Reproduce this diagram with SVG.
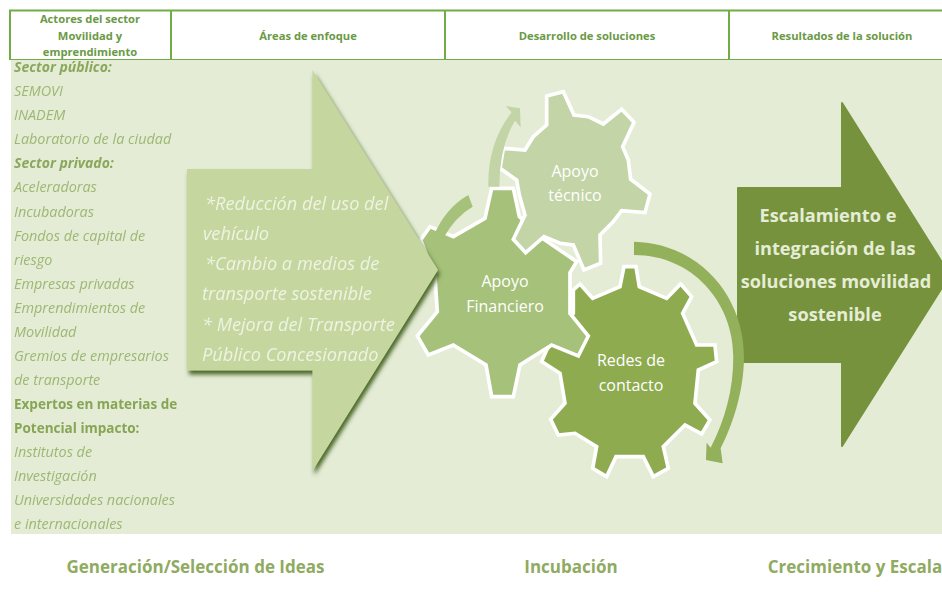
<svg xmlns="http://www.w3.org/2000/svg" width="942" height="592" viewBox="0 0 942 592">
<style>
.rule{stroke:#70ad47;fill:none}
.hd{font:bold 11.2px "Open Sans",sans-serif;fill:#6a9a45;text-anchor:middle}
.it{font:italic 14.4px "Open Sans",sans-serif;fill:#9db873}
.bd{font:italic bold 14px "Open Sans",sans-serif;fill:#8aa85c}
.bn{font:bold 13.5px "Open Sans",sans-serif;fill:#86a554}
.ar{font:italic 18.2px "Open Sans",sans-serif;fill:#eef3e3}
.gt{font:16px "Open Sans",sans-serif;fill:#fff;text-anchor:middle}
.rt{font:bold 18.2px "Open Sans",sans-serif;fill:#e6edd6;text-anchor:middle}
.ft{font:bold 17px "Open Sans",sans-serif;fill:#8fab62;text-anchor:middle}
.gear{stroke:#fff;stroke-width:11;stroke-linejoin:miter}
</style>
<defs>
<filter id="sh" x="-10%" y="-10%" width="125%" height="125%"><feDropShadow dx="2" dy="4" stdDeviation="2" flood-color="#4a6626"/></filter>
<filter id="soft" x="-5%" y="-20%" width="110%" height="140%"><feGaussianBlur stdDeviation="0.45"/></filter>
</defs>
<rect x="11" y="60" width="931" height="474" fill="#e4ecd6"/>
<g id="header">
<path class="rule" stroke-width="2" d="M9 10.500H942M10 10V60M171 10V60M445 10V60M729 10V60"/>
<path class="rule" d="M9 59.500H942"/>
<text class="hd" x="90" y="23">Actores del sector</text>
<text class="hd" x="90" y="40">Movilidad y</text>
<text class="hd" x="90" y="56">emprendimiento</text>
<text class="hd" x="308" y="40">Áreas de enfoque</text>
<text class="hd" x="587" y="40">Desarrollo de soluciones</text>
<text class="hd" x="842" y="40">Resultados de la solución</text>
</g>
<g id="actores" filter="url(#soft)">
<text class="bd" x="14" y="72">Sector público:</text>
<text class="it" x="14" y="96">SEMOVI</text>
<text class="it" x="14" y="120">INADEM</text>
<text class="it" x="14" y="144">Laboratorio de la ciudad</text>
<text class="bd" x="14" y="168">Sector privado:</text>
<text class="it" x="14" y="192">Aceleradoras</text>
<text class="it" x="14" y="217">Incubadoras</text>
<text class="it" x="14" y="241">Fondos de capital de</text>
<text class="it" x="14" y="265">riesgo</text>
<text class="it" x="14" y="289">Empresas privadas</text>
<text class="it" x="14" y="313">Emprendimientos de</text>
<text class="it" x="14" y="337">Movilidad</text>
<text class="it" x="14" y="361">Gremios de empresarios</text>
<text class="it" x="14" y="385">de transporte</text>
<text class="bn" x="14" y="409">Expertos en materias de</text>
<text class="bn" x="14" y="433">Potencial impacto:</text>
<text class="it" x="14" y="457">Institutos de</text>
<text class="it" x="14" y="481">Investigación</text>
<text class="it" x="14" y="505">Universidades nacionales</text>
<text class="it" x="14" y="529">e internacionales</text>
</g>
<g id="gear-redes">
<polygon class="gear" fill="#8eab50" transform="translate(400 80) scale(.3333)" points="672,560 708,560 718,620 800,655 842,612 875,650 848,700 890,795 945,795 950,845 895,870 885,970 930,1020 905,1062 855,1035 790,1100 805,1165 760,1190 730,1130 648,1130 620,1190 578,1165 590,1100 525,1060 475,1065 452,1018 495,970 480,880 425,845 440,810 520,700 520,630 540,612 578,655 660,620"/>
<text class="gt" x="631" y="366">Redes de</text>
<text class="gt" x="631" y="391">contacto</text>
</g>
<g id="gear-financiero">
<polygon class="gear" fill="#a6c17a" transform="translate(400 80) scale(.3333)" points="275,325 340,325 358,410 420,470 530,545 510,578 510,700 565,768 535,828 455,795 360,855 340,950 275,950 258,855 160,795 85,825 52,768 112,695 105,590 62,480 90,440 160,470 255,415"/>
<text class="gt" x="505" y="287">Apoyo</text>
<text class="gt" x="505" y="312">Financiero</text>
</g>
<g id="gear-tecnico">
<polygon class="gear" fill="#c3d4a7" transform="translate(400 80) scale(.3333)" points="440,48 490,35 522,105 565,110 610,132 665,88 702,127 668,200 685,240 692,298 750,342 735,398 665,392 640,425 600,465 602,550 552,570 520,495 480,490 432,470 377,518 340,478 375,405 358,345 350,300 300,265 310,205 375,210 400,170 440,135"/>
<text class="gt" x="575" y="177">Apoyo</text>
<text class="gt" x="575" y="201">técnico</text>
</g>
<g id="arrow-resultados">
<polygon fill="#76923c" stroke="#76923c" stroke-width="2" stroke-linejoin="round" points="738,188 842,188 842,103 950,275 842,446 842,362 738,362"/>
<text class="rt" x="828" y="222">Escalamiento e</text>
<text class="rt" x="835" y="255">integración de las</text>
<text class="rt" x="836" y="288">soluciones movilidad</text>
<text class="rt" x="835" y="321">sostenible</text>
</g>
<g id="connectors">
<path fill="#c3d4a7" transform="translate(400 80) scale(.3333)" d="M265 320Q262 190 335 97L317 78L360 85L362 142L345 122Q298 200 298 320Z"/>
<path fill="#a6c17a" transform="translate(400 80) scale(.3333)" d="M100 470Q135 385 205 345L218 380Q165 410 130 475Z"/>
<path fill="#93b05a" transform="translate(400 80) scale(.3333)" d="M702 485C900 490 1032 650 1032 830C1032 930 1000 1030 962 1105L968 1150L918 1140L920 1088L932 1103C975 1020 1000 930 1000 830C1000 670 880 525 702 525Z"/>
</g>
<g id="arrow-areas">
<polygon fill="#c5d69e" filter="url(#sh)" points="187,169 312.500,169 312.500,70 438,270 312.500,471 312.500,370.500 187,370.500"/>
<g filter="url(#soft)">
<text class="ar" x="205" y="210">*Reducción del uso del</text>
<text class="ar" x="203" y="240">vehículo</text>
<text class="ar" x="205" y="270">*Cambio a medios de</text>
<text class="ar" x="202" y="300">transporte sostenible</text>
<text class="ar" x="202" y="331">* Mejora del Transporte</text>
<text class="ar" x="202" y="361">Público Concesionado</text>
</g>
</g>
<g id="fases">
<text class="ft" x="195.500" y="573">Generación/Selección de Ideas</text>
<text class="ft" x="571" y="573">Incubación</text>
<text class="ft" x="855" y="573">Crecimiento y Escala</text>
</g>
</svg>
